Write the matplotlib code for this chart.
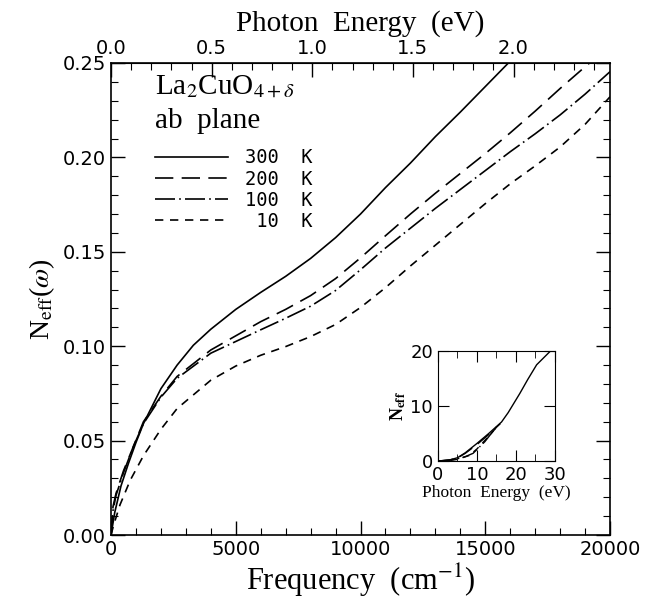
import numpy as np
import matplotlib
matplotlib.use("Agg")
import matplotlib.pyplot as plt
from matplotlib.ticker import MultipleLocator, FixedLocator, FormatStrFormatter

plt.rcParams['mathtext.fontset'] = 'stix'
plt.rcParams['font.family'] = 'DejaVu Sans'

EV = 8065.54  # cm^-1 per eV

# --- main panel: N_eff vs frequency (cm^-1) ---
f_300 = [0, 150, 400, 700, 1000, 1300, 2000, 2650, 3300, 4000, 5000, 6000, 7000,
         8000, 9000, 10000, 11000, 12000, 13000, 14000, 15000, 16000, 16500]
n_300 = [0, 0.012, 0.026, 0.038, 0.049, 0.059, 0.0775, 0.090, 0.1005, 0.109, 0.1195,
         0.1285, 0.137, 0.1465, 0.1575, 0.170, 0.184, 0.197, 0.211, 0.224, 0.2375, 0.251,
         0.258]

f_200 = [0, 80, 200, 500, 900, 1300, 2000, 2650, 4000, 5000, 6000, 7000, 8000,
         9000, 10000, 11000, 12000, 13000, 14000, 15000, 16000, 17000, 18000, 19000,
         20000]
n_200 = [0, 0.015, 0.022, 0.034, 0.047, 0.060, 0.0735, 0.084, 0.098, 0.1055, 0.113,
         0.1195, 0.1268, 0.1358, 0.1468, 0.1585, 0.170, 0.181, 0.1915, 0.202, 0.213,
         0.2245, 0.2365, 0.248, 0.259]

f_100 = [0, 80, 200, 500, 900, 1300, 2000, 2650, 4000, 5000, 6000, 7000, 8000,
         9000, 10000, 11000, 12000, 13000, 14000, 15000, 16000, 17000, 18000, 19000,
         20000]
n_100 = [0, 0.013, 0.021, 0.033, 0.047, 0.059, 0.073, 0.083, 0.0963, 0.1025, 0.1087,
         0.1148, 0.1212, 0.1295, 0.1405, 0.152, 0.1625, 0.173, 0.183, 0.193, 0.203,
         0.2125, 0.2225, 0.2335, 0.2454]

f_10 = [0, 100, 360, 770, 1300, 2000, 2650, 4000, 5000, 6000, 7000, 8000, 9000,
        10000, 11000, 12000, 13000, 14000, 15000, 16000, 17000, 18000, 19000, 20000]
n_10 = [0, 0.005, 0.016, 0.029, 0.042, 0.056, 0.067, 0.082, 0.0895, 0.0952, 0.0998,
        0.1051, 0.1115, 0.1205, 0.131, 0.1425, 0.1535, 0.1645, 0.1755, 0.186, 0.1955,
        0.2055, 0.2175, 0.2321]

# --- inset: N_eff vs photon energy (eV) ---
e_300 = [0, 3, 5, 7, 10, 13, 16.3, 18, 21, 23, 25.3, 28.7, 30]
i_300 = [0, 0.2, 0.6, 1.5, 3.2, 5.0, 7.1, 8.8, 12.3, 14.8, 17.5, 19.9, 20.6]
e_200 = [0, 3, 5, 7, 10, 13, 16]
i_200 = [0, 0.2, 0.55, 1.4, 3.0, 4.8, 6.8]
e_100 = [0, 3, 5, 7, 9, 12, 15]
i_100 = [0, 0.15, 0.4, 0.8, 1.4, 3.5, 6.2]
e_10 = [0, 3, 5, 8, 10, 13, 15.5]
i_10 = [0, 0.1, 0.3, 1.0, 2.2, 4.5, 6.5]

labels = ['300  K', '200  K', '100  K', ' 10  K']
styles = ['-', (0, (11, 5)), (0, (12, 2.5, 1, 2.5)), (0, (5, 4))]
ev_ticks = [0.0, 0.5, 1.0, 1.5, 2.0]
ev_minor = [0.1, 0.2, 0.3, 0.4, 0.6, 0.7, 0.8, 0.9, 1.1, 1.2, 1.3, 1.4,
            1.6, 1.7, 1.8, 1.9, 2.1, 2.2, 2.3, 2.4]

fig = plt.figure(figsize=(6.62, 6.01), dpi=100)
ax = fig.add_axes([0.1677, 0.1098, 0.7538, 0.7854])

series = [(f_300, n_300), (f_200, n_200), (f_100, n_100), (f_10, n_10)]
for (x, y), ls, lab in zip(series, styles, labels):
    ax.plot(x, y, color='black', lw=1.2, linestyle=ls, label=lab)

ax.set_xlim(0, 20000)
ax.set_ylim(0, 0.25)
ax.xaxis.set_major_locator(MultipleLocator(5000))
ax.xaxis.set_minor_locator(MultipleLocator(1000))
ax.yaxis.set_major_locator(MultipleLocator(0.05))
ax.yaxis.set_minor_locator(MultipleLocator(0.01))
ax.yaxis.set_major_formatter(FormatStrFormatter('%.2f'))
ax.tick_params(which='both', direction='in', top=False, right=True, labelsize=14)
ax.tick_params(which='major', length=10, width=1)
ax.tick_params(which='minor', length=5, width=0.8)
for s in ax.spines.values():
    s.set_linewidth(1.2)

ax.set_xlabel(r'Frequency  (cm$^{-1}$)', family='Liberation Serif', fontsize=22, labelpad=2)
ax.set_ylabel(r'N$_{\rm eff}$($\omega$)', family='Liberation Serif', fontsize=20, labelpad=4)

top = ax.secondary_xaxis('top', functions=(lambda f: f / EV, lambda e: e * EV))
top.xaxis.set_major_locator(FixedLocator(ev_ticks))
top.xaxis.set_minor_locator(FixedLocator(ev_minor))
top.xaxis.set_major_formatter(FormatStrFormatter('%.1f'))
top.tick_params(which='both', direction='in', labelsize=14)
top.tick_params(which='major', length=10, width=1)
top.tick_params(which='minor', length=5, width=0.8)
top.set_xlabel('Photon  Energy  (eV)', family='Liberation Serif', fontsize=21, labelpad=6)

ax.text(0.088, 0.978, r'La$_2$CuO$_{4+\delta}$', transform=ax.transAxes,
        family='Liberation Serif', fontsize=21, va='top')
ax.text(0.088, 0.905, 'ab  plane', transform=ax.transAxes,
        family='Liberation Serif', fontsize=21, va='top')

leg = ax.legend(loc='upper left', bbox_to_anchor=(0.055, 0.855), frameon=False,
                handlelength=3.9, handletextpad=0.9, labelspacing=0.12,
                prop={'family': 'DejaVu Sans Mono', 'size': 13.5})

# --- inset ---
ins = fig.add_axes([0.6616, 0.2329, 0.1767, 0.183])
inset = [(e_300, i_300), (e_200, i_200), (e_100, i_100), (e_10, i_10)]
for (x, y), ls in zip(inset, styles):
    ins.plot(x, y, color='black', lw=1.0, linestyle=ls)
ins.set_xlim(0, 30)
ins.set_ylim(0, 20)
ins.xaxis.set_major_locator(MultipleLocator(10))
ins.xaxis.set_minor_locator(MultipleLocator(5))
ins.yaxis.set_major_locator(MultipleLocator(10))
ins.tick_params(which='both', direction='in', top=True, right=True, labelsize=13)
ins.tick_params(which='major', length=8)
ins.tick_params(which='minor', length=5)
ins.set_xlabel('Photon  Energy  (eV)', family='Liberation Serif', fontsize=12.5, labelpad=1)
ins.set_ylabel(r'N$_{\mathbf{eff}}$', family='Liberation Serif', fontsize=13,
               fontweight='bold', labelpad=2)

fig.savefig('out.png', dpi=100)
